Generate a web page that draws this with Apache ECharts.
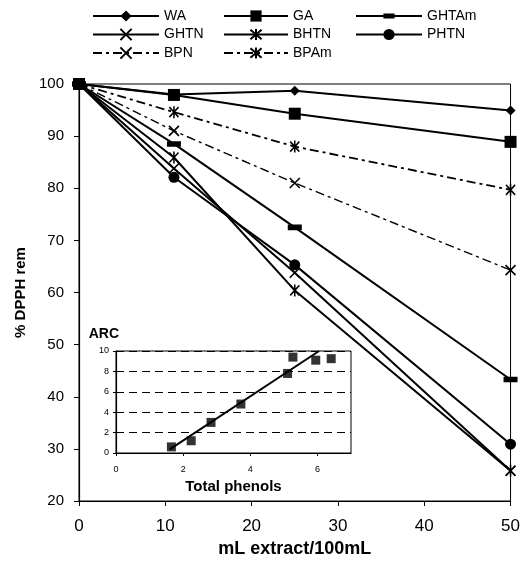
<!DOCTYPE html>
<html><head><meta charset="utf-8">
<script src="https://cdn.jsdelivr.net/npm/echarts@6/dist/echarts.min.js"></script>
<style>html,body{margin:0;padding:0;background:#fff}#c{width:523px;height:563px}</style>
</head><body><div id="c"></div>
<script>
// Main chart data
const xValues = [0, 11, 25, 50];
const WA    = [100, 98.0, 98.7, 94.9];
const GA    = [100, 97.9, 94.3, 88.9];
const GHTAm = [100, 88.5, 72.5, 43.3];
const GHTN  = [100, 83.8, 63.8, 25.8];
const BHTN  = [100, 85.9, 60.4, 25.8];
const PHTN  = [100, 82.1, 65.3, 30.9];
const BPN   = [100, 91.0, 81.0, 64.3];
const BPAm  = [100, 94.6, 88.0, 79.7];

// Inset data
const insetPhenols = [1.65, 2.24, 2.83, 3.72, 5.11, 5.27, 5.95, 6.41];
const insetARC     = [0.6, 1.2, 3.0, 4.8, 7.8, 9.4, 9.1, 9.25];
const fitPhenols = [1.6, 6.05];
const fitARC     = [0.35, 10];

const FONT = 'Liberation Sans, Arial, sans-serif';
const pairs = (xs, ys) => xs.map((x, i) => [x, ys[i]]);

const SYM_X = 'path://M0,0L10,10M10,0L0,10';
const SYM_AST = 'path://M0,0L10,10M10,0L0,10M5,-1L5,11';
// horizontal bar inside a square bounding box (degenerate corner points keep the box square)
const SYM_BAR = 'path://M0,3.4L13,3.4L13,8.6L0,8.6Z M0,0L0.01,0 M0,12L0.01,12';

function mainSeries(name, vals, symbol, size, opts) {
  opts = opts || {};
  return {
    name: name, type: 'line', data: pairs(xValues, vals),
    symbol: symbol, symbolSize: size, symbolKeepAspect: true,
    showAllSymbol: true,
    lineStyle: { color: '#000', width: opts.width || 2, type: opts.dash || 'solid' },
    itemStyle: { color: opts.stroke ? 'rgba(0,0,0,0)' : '#000', borderColor: '#000', borderWidth: opts.stroke ? 1.6 : 0 },
    emphasis: { disabled: true },
    z: opts.z || 3
  };
}

const dashDot = [9, 4, 3, 4];

const chart = echarts.init(document.getElementById('c'), null, { renderer: 'canvas' });
const legendCommon = {
  orient: 'vertical', top: 9, padding: 0, itemHeight: 14, itemGap: 4.5, selectedMode: false,
  textStyle: { fontSize: 14, color: '#000', fontFamily: FONT },
  symbolKeepAspect: true
};
chart.setOption({
  animation: false,
  backgroundColor: '#fff',
  legend: [
    Object.assign({}, legendCommon, { left: 92, itemWidth: 66, data: ['WA', 'GHTN', 'BPN'] }),
    Object.assign({}, legendCommon, { left: 223, itemWidth: 64, data: ['GA', 'BHTN', 'BPAm'] }),
    Object.assign({}, legendCommon, { left: 355, itemWidth: 66, data: ['GHTAm', 'PHTN'] })
  ],
  grid: [
    { left: 79, right: 11, top: 84, bottom: 62, show: true, borderColor: '#000', borderWidth: 1, backgroundColor: 'transparent' },
    { left: 116, top: 351, width: 235, height: 102, show: true, borderColor: '#000', borderWidth: 1, backgroundColor: '#fff' }
  ],
  xAxis: [
    {
      type: 'value', gridIndex: 0, min: 0, max: 50, interval: 10,
      name: 'mL extract/100mL', nameLocation: 'middle', nameGap: 38,
      nameTextStyle: { fontSize: 18, fontWeight: 'bold', color: '#000', fontFamily: FONT },
      axisLine: { show: true, lineStyle: { color: '#000', width: 1.2 } },
      axisTick: { show: true, inside: false, length: 5, lineStyle: { color: '#000' } },
      axisLabel: { fontSize: 17, color: '#000', margin: 17, fontFamily: FONT },
      splitLine: { show: false }
    },
    {
      type: 'value', gridIndex: 1, min: 0, max: 7, interval: 2,
      name: 'Total phenols', nameLocation: 'middle', nameGap: 26,
      nameTextStyle: { fontSize: 15, fontWeight: 'bold', color: '#000', fontFamily: FONT },
      axisLine: { show: true, lineStyle: { color: '#000', width: 1.2 } },
      axisTick: { show: true, length: 3, lineStyle: { color: '#000' } },
      axisLabel: { fontSize: 9, color: '#000', margin: 12, fontFamily: FONT, showMaxLabel: false },
      splitLine: { show: false }
    }
  ],
  yAxis: [
    {
      type: 'value', gridIndex: 0, min: 20, max: 100, interval: 10,
      name: '% DPPH rem', nameLocation: 'middle', nameGap: 49,
      nameTextStyle: { fontSize: 15, fontWeight: 'bold', color: '#000', fontFamily: FONT },
      axisLine: { show: true, lineStyle: { color: '#000', width: 1.2 } },
      axisTick: { show: true, inside: false, length: 5, lineStyle: { color: '#000' } },
      axisLabel: { fontSize: 15, color: '#000', margin: 15, fontFamily: FONT },
      splitLine: { show: false }
    },
    {
      type: 'value', gridIndex: 1, min: 0, max: 10, interval: 2,
      name: 'ARC', nameLocation: 'end', nameGap: 10,
      nameTextStyle: { fontSize: 14, fontWeight: 'bold', color: '#000', fontFamily: FONT, align: 'right', padding: [0, -3, 0, 0] },
      axisLine: { show: true, lineStyle: { color: '#000', width: 1.2 } },
      axisTick: { show: true, length: 3, lineStyle: { color: '#000' } },
      axisLabel: { fontSize: 9, color: '#000', margin: 7, fontFamily: FONT },
      splitLine: { show: true, lineStyle: { color: '#000', width: 1, type: [8, 5] } }
    }
  ],
  series: [
    mainSeries('WA', WA, 'diamond', 10),
    mainSeries('GHTN', GHTN, SYM_X, 10, { stroke: true }),
    mainSeries('BPN', BPN, SYM_X, 10, { stroke: true, dash: dashDot, width: 1.4 }),
    mainSeries('BHTN', BHTN, SYM_AST, [11, 12], { stroke: true }),
    mainSeries('BPAm', BPAm, SYM_AST, [11, 12], { stroke: true, dash: dashDot, width: 1.8 }),
    mainSeries('GHTAm', GHTAm, SYM_BAR, 14),
    mainSeries('PHTN', PHTN, 'circle', 11),
    mainSeries('GA', GA, 'rect', 12, { z: 4 }),
    {
      name: 'fit', type: 'line', xAxisIndex: 1, yAxisIndex: 1,
      data: pairs(fitPhenols, fitARC), symbol: 'none',
      lineStyle: { color: '#000', width: 2 }, z: 5, emphasis: { disabled: true }
    },
    {
      name: 'ARC points', type: 'scatter', xAxisIndex: 1, yAxisIndex: 1,
      data: pairs(insetPhenols, insetARC), symbol: 'rect', symbolSize: 9,
      itemStyle: { color: '#000' }, z: 6, emphasis: { disabled: true }
    }
  ]
});
</script></body></html>
